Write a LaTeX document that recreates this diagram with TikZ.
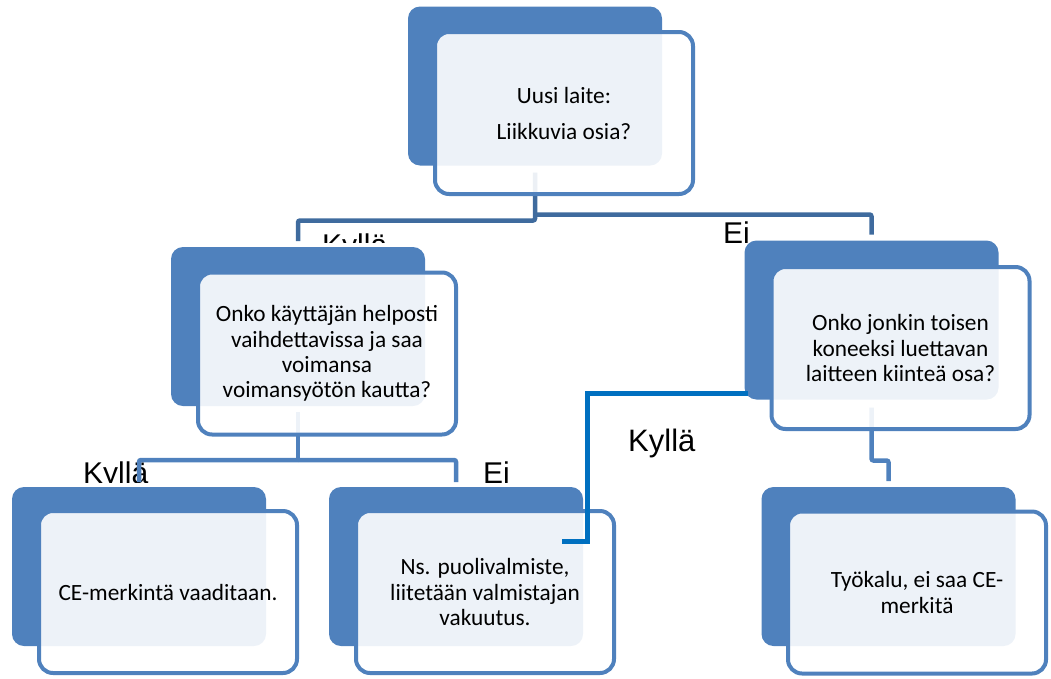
\documentclass[tikz,border=0pt]{standalone}
\usepackage{fontspec}
\setmainfont{Carlito}
\newfontfamily\labelfont{Liberation Sans}
\definecolor{boxblue}{HTML}{4F81BD}
\definecolor{topconn}{HTML}{3F6B9E}
\definecolor{yesblue}{HTML}{0070C0}
\pgfdeclarelayer{lab}
\pgfdeclarelayer{con}
\pgfsetlayers{lab,con,main}
\begin{document}
\begin{tikzpicture}[x=1pt,y=-1pt,
  backbox/.style={fill=boxblue, draw=none, rounded corners=12pt, minimum width=254pt, minimum height=159pt, inner sep=0pt, outer sep=0pt},
  frontbox/.style={draw=boxblue, line width=4pt, fill=white, fill opacity=0.9, text opacity=1, rounded corners=14pt, minimum width=258pt, minimum height=162pt, align=center, inner sep=0pt, font=\fontsize{23.3}{25.3}\selectfont},
  conn/.style={draw=boxblue, line width=4.5pt, rounded corners=2pt},
  conntop/.style={conn, draw=topconn},
  yesconn/.style={draw=yesblue, line width=5pt},
  lbl/.style={font=\labelfont\fontsize{30}{36}\selectfont, anchor=base west, inner sep=0pt}]
\useasboundingbox (0,0) rectangle (1051,678);
% back boxes
\node[backbox] (b1) at (535,86) {};
\node[backbox] (b2) at (298,326.5) {};
\node[backbox] (b3) at (871.5,320) {};
\node[backbox] (b4) at (139,566.5) {};
\node[backbox] (b5) at (456,566.5) {};
\node[backbox] (b6) at (888.5,566.5) {};
% front boxes
\node[frontbox] (f1) at (564,113) {Uusi laite:\\[10.7pt]Liikkuvia osia?};
\node[frontbox] (f2) at (327,353.5) {Onko käyttäjän helposti\\vaihdettavissa ja saa\\voimansa\\voimansyötön kautta?};
\node[frontbox] (f3) at (900.5,348) {Onko jonkin toisen\\koneeksi luettavan\\laitteen kiinteä osa?};
\node[frontbox] (f4) at (168,592) {CE-merkintä vaaditaan.};
\node[frontbox] (f5) at (485,592) {Ns. puolivalmiste,\\liitetään valmistajan\\vakuutus.};
\node[frontbox] (f6) at (917,592.5) {Työkalu, ei saa CE-\\merkitä};
% labels
\begin{pgfonlayer}{lab}
\begin{scope}
\clip (300,200) rectangle (420,242);
\node[lbl] (l1) at (322,255) {Kyllä};
\end{scope}
\node[lbl] (l2) at (723,243) {Ei};
\node[lbl, font=\labelfont\fontsize{31}{36}\selectfont] (l3) at (628,451) {Kyllä};
\begin{scope}
\clip (60,440) rectangle (540,482);
\node[lbl] (l4) at (83,483) {Kyllä};
\node[lbl] (l5) at (483,483) {Ei};
\end{scope}
\end{pgfonlayer}
% connectors
\begin{pgfonlayer}{con}
\draw[conntop] ([yshift=-7pt]b1.south) -- ++(0,48) -| ([yshift=6pt]b2.north);
\draw[conntop] ([yshift=-7pt]b1.south) ++(0,42) -| ([yshift=6pt]b3.north);
\draw[conn] ([yshift=-6pt]b2.south) -- ++(0,48) coordinate (m2);
\draw[conn] (m2) -| ([yshift=5pt]b4.north);
\draw[conn] (m2) -| ([yshift=5pt]b5.north);
\draw[conn] ([yshift=-8pt]b3.south) -- ++(0,53) -| ([yshift=6pt]b6.north);
\end{pgfonlayer}
\coordinate (yesend) at (562,541);
\draw[yesconn] ([shift={(3pt,6pt)}]b3.south west) -| ([xshift=25pt]yesend) -- (yesend);
\end{tikzpicture}
\end{document}
